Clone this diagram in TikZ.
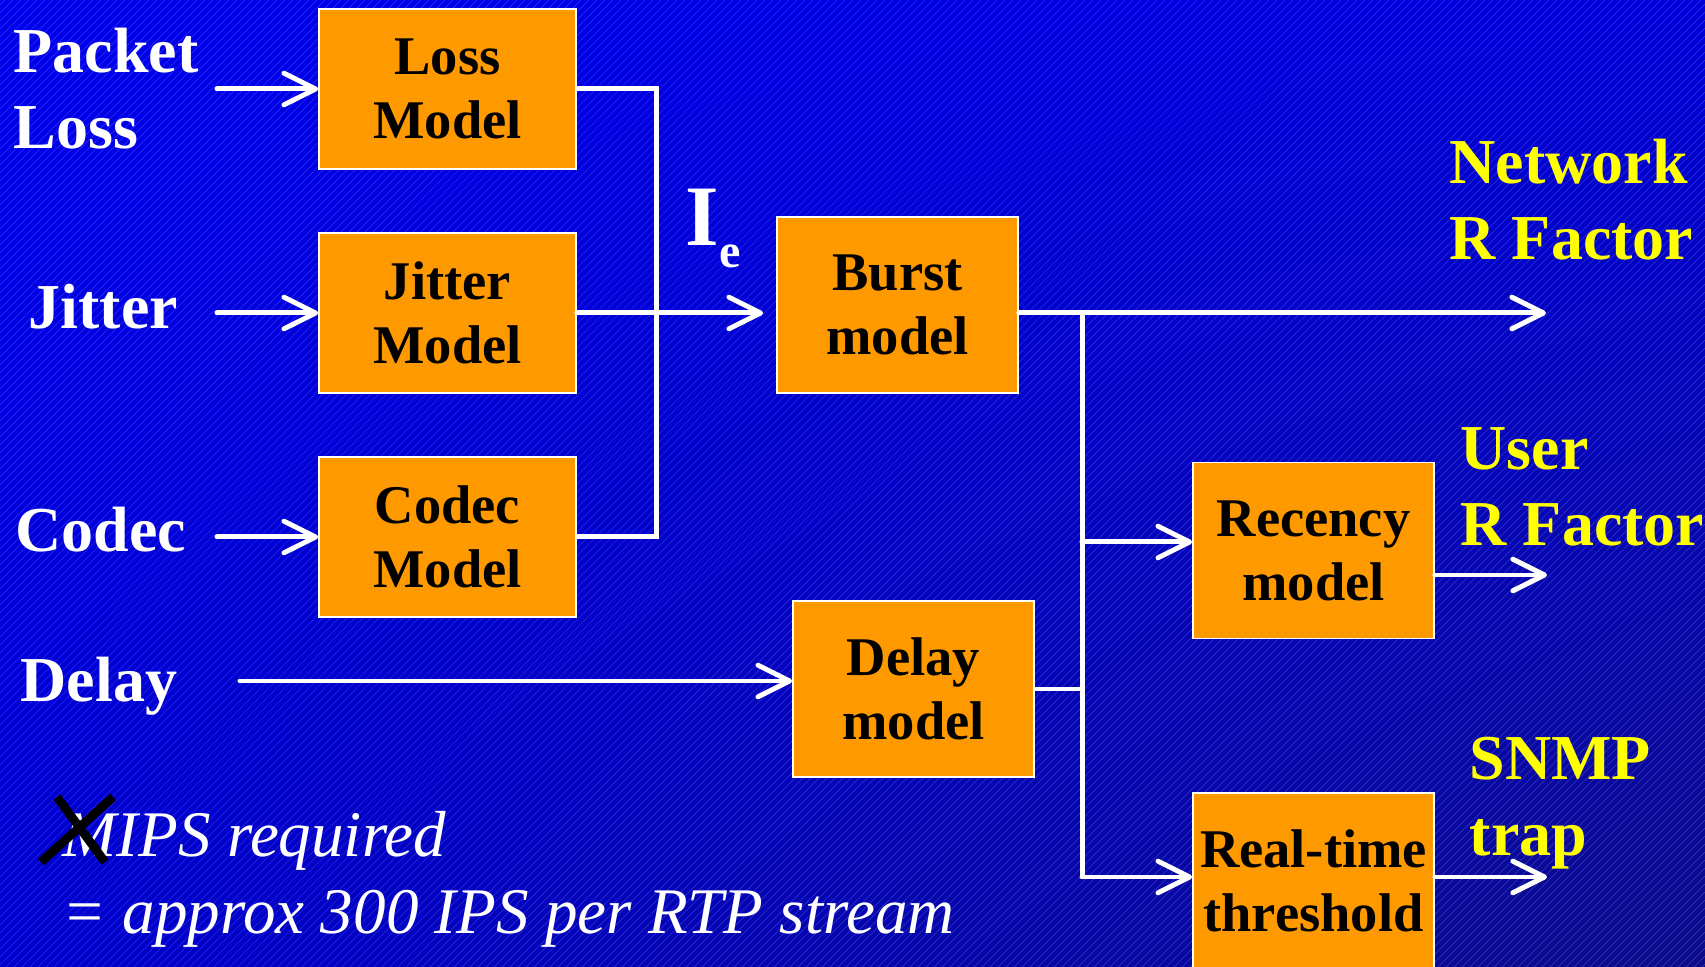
\documentclass[tikz,border=0pt]{standalone}
\usepackage{fontspec}
\setmainfont{Liberation Serif}
\usepackage{tikz}
\usetikzlibrary{arrows.meta, shadings}

\definecolor{slideblue}{RGB}{0,0,238}
\definecolor{slidenavy}{RGB}{12,12,140}
\definecolor{boxorange}{RGB}{255,153,0}
\definecolor{outyellow}{RGB}{255,255,0}

\begin{document}
\begin{tikzpicture}[x=0.01cm, y=-0.01cm,
        model/.style = {draw = white, line width = 0.45pt, fill = boxorange, inner sep = 0pt,
            align = center, font = \fontsize{15.5}{18.2}\selectfont\bfseries},
        small_model/.style = {model, minimum width = 2.57cm, minimum height = 1.6cm},
        big_model/.style = {model, minimum width = 2.41cm, minimum height = 1.76cm},
        in_label/.style = {text = white, anchor = north west, inner sep = 0pt, align = left,
            font = \fontsize{18.2}{21.6}\selectfont\bfseries},
        out_label/.style = {in_label, text = outyellow},
        wire/.style = {white, line width = 1.42pt},
        flow/.style = {wire, line cap = round, -{Straight Barb[length = 9pt, width = 9pt, round]}}]
        \useasboundingbox (0,0) rectangle (1705,967);
        \shade[upper left = slideblue, upper right = slideblue!92!black,
            lower left = slideblue!88!black, lower right = slidenavy] (0,0) rectangle (1705,967);
        \begin{scope}
            \clip (0,0) rectangle (1705,967);
            \foreach \s in {-970,-962,...,1705}
                \draw[white, opacity = 0.16, line width = 0.2pt] (\s,967) -- ++(967,-967);
        \end{scope}

        % models
        \node (loss_model)[small_model] at (447.5,89) {Loss\\Model};
        \node (jitter_model)[small_model] at (447.5,313) {Jitter\\Model};
        \node (codec_model)[small_model] at (447.5,537) {Codec\\Model};
        \node (burst_model)[big_model] at (897.5,305) {Burst\\model};
        \node (delay_model)[big_model] at (913.5,689) {Delay\\model};
        \node (recency_model)[big_model] at (1313.5,550.5) {Recency\\model};
        \node (realtime_model)[big_model] at (1313.5,881) {Real-time\\threshold};

        % inputs and outputs
        \node (packet_loss)[in_label] at (13,27) {Packet\\Loss};
        \node (jitter)[in_label] at (28,283) {Jitter};
        \node (codec)[in_label] at (15,506) {Codec};
        \node (delay)[in_label] at (20,656) {Delay};
        \node (i_e)[in_label, font = \fontsize{24.5}{28}\selectfont\bfseries]
        at (685,188) {I\raisebox{-0.22cm}{\fontsize{13.7}{16}\selectfont e}};
        \node (network_r)[out_label] at (1449,138) {Network\\R Factor};
        \node (user_r)[out_label] at (1460,427) {User\\R Factor};
        \node (snmp_trap)[out_label] at (1469,736) {SNMP\\trap};
        \node (mips)[in_label, font = \fontsize{18.5}{21.9}\selectfont\itshape]
        at (62,811) {MIPS required\\= approx 300 IPS per RTP stream};
        \draw[black, line width = 2.5pt] (41,862) -- (113,797);
        \draw[black, line width = 2.5pt] (57,797) -- (105,862);

        \coordinate (loss_in) at (217,89);
        \coordinate (jitter_in) at (217,313);
        \coordinate (codec_in) at (217,537);
        \coordinate (delay_in) at (240,681);
        \coordinate (bus_a) at (656,537);
        \coordinate (bus_b_top) at (1082,313);
        \coordinate (bus_b_bot) at (1082,877);
        \coordinate (rec_in) at (1082,542);
        \coordinate (net_out) at (1546,313);
        \coordinate (user_out) at (1547,575);
        \coordinate (trap_out) at (1547,877);

        \path (loss_in) edge[flow] (loss_model.west);
        \path (jitter_in) edge[flow] (jitter_model.west);
        \path (codec_in) edge[flow] (codec_model.west);
        \path (delay_in) edge[flow] (delay_in -| delay_model.west);
        \draw[wire] (loss_model.east) -| (bus_a) -- (codec_model.east);
        \path (jitter_model.east) edge[flow, shorten > = 0.13cm] (burst_model.west |- jitter_model.east);
        \path (burst_model.east |- net_out) edge[flow] (net_out);
        \draw[wire] (bus_b_top) -- (bus_b_bot);
        \draw[wire] (delay_model.east) -- (delay_model.east -| bus_b_top);
        \path (rec_in) edge[flow] (rec_in -| recency_model.west);
        \path (bus_b_bot) edge[flow] (bus_b_bot -| realtime_model.west);
        \path (recency_model.east |- user_out) edge[flow] (user_out);
        \path (realtime_model.east |- trap_out) edge[flow] (trap_out);
    \end{tikzpicture}
\end{document}
